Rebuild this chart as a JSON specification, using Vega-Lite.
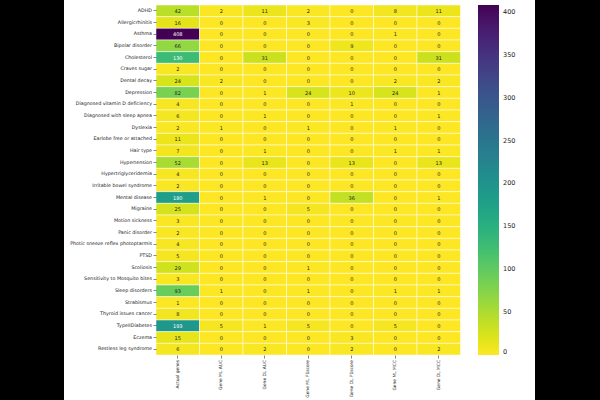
{
  "$schema": "https://vega.github.io/schema/vega-lite/v6.json",
  "padding": 0,
  "background": "white",
  "spacing": 0,
  "bounds": "full",
  "config": {
    "view": {"stroke": null},
    "font": "DejaVu Sans",
    "axis": {"labelFont": "DejaVu Sans", "grid": false, "domain": false},
    "legend": {"labelFont": "DejaVu Sans"}
  },
  "datasets": {
    "genes": [
      {"disease": "ADHD", "Actual genes": 42, "Gene ML AUC": 2, "Gene DL AUC": 11, "Gene ML F1score": 2, "Gene DL F1score": 0, "Gene ML MCC": 8, "Gene DL MCC": 11},
      {"disease": "Allergicrhinitis", "Actual genes": 16, "Gene ML AUC": 0, "Gene DL AUC": 0, "Gene ML F1score": 3, "Gene DL F1score": 0, "Gene ML MCC": 0, "Gene DL MCC": 0},
      {"disease": "Asthma", "Actual genes": 408, "Gene ML AUC": 0, "Gene DL AUC": 0, "Gene ML F1score": 0, "Gene DL F1score": 0, "Gene ML MCC": 1, "Gene DL MCC": 0},
      {"disease": "Bipolar disorder", "Actual genes": 66, "Gene ML AUC": 0, "Gene DL AUC": 0, "Gene ML F1score": 0, "Gene DL F1score": 9, "Gene ML MCC": 0, "Gene DL MCC": 0},
      {"disease": "Cholesterol", "Actual genes": 130, "Gene ML AUC": 0, "Gene DL AUC": 31, "Gene ML F1score": 0, "Gene DL F1score": 0, "Gene ML MCC": 0, "Gene DL MCC": 31},
      {"disease": "Craves sugar", "Actual genes": 2, "Gene ML AUC": 0, "Gene DL AUC": 0, "Gene ML F1score": 0, "Gene DL F1score": 0, "Gene ML MCC": 0, "Gene DL MCC": 0},
      {"disease": "Dental decay", "Actual genes": 24, "Gene ML AUC": 2, "Gene DL AUC": 0, "Gene ML F1score": 0, "Gene DL F1score": 0, "Gene ML MCC": 2, "Gene DL MCC": 2},
      {"disease": "Depression", "Actual genes": 82, "Gene ML AUC": 0, "Gene DL AUC": 1, "Gene ML F1score": 24, "Gene DL F1score": 10, "Gene ML MCC": 24, "Gene DL MCC": 1},
      {"disease": "Diagnosed vitamin D deficiency", "Actual genes": 4, "Gene ML AUC": 0, "Gene DL AUC": 0, "Gene ML F1score": 0, "Gene DL F1score": 1, "Gene ML MCC": 0, "Gene DL MCC": 0},
      {"disease": "Diagnosed with sleep apnea", "Actual genes": 6, "Gene ML AUC": 0, "Gene DL AUC": 1, "Gene ML F1score": 0, "Gene DL F1score": 0, "Gene ML MCC": 0, "Gene DL MCC": 1},
      {"disease": "Dyslexia", "Actual genes": 2, "Gene ML AUC": 1, "Gene DL AUC": 0, "Gene ML F1score": 1, "Gene DL F1score": 0, "Gene ML MCC": 1, "Gene DL MCC": 0},
      {"disease": "Earlobe free or attached", "Actual genes": 11, "Gene ML AUC": 0, "Gene DL AUC": 0, "Gene ML F1score": 0, "Gene DL F1score": 0, "Gene ML MCC": 0, "Gene DL MCC": 0},
      {"disease": "Hair type", "Actual genes": 7, "Gene ML AUC": 0, "Gene DL AUC": 1, "Gene ML F1score": 0, "Gene DL F1score": 0, "Gene ML MCC": 1, "Gene DL MCC": 1},
      {"disease": "Hypertension", "Actual genes": 52, "Gene ML AUC": 0, "Gene DL AUC": 13, "Gene ML F1score": 0, "Gene DL F1score": 13, "Gene ML MCC": 0, "Gene DL MCC": 13},
      {"disease": "Hypertriglyceridemia", "Actual genes": 4, "Gene ML AUC": 0, "Gene DL AUC": 0, "Gene ML F1score": 0, "Gene DL F1score": 0, "Gene ML MCC": 0, "Gene DL MCC": 0},
      {"disease": "Irritable bowel syndrome", "Actual genes": 2, "Gene ML AUC": 0, "Gene DL AUC": 0, "Gene ML F1score": 0, "Gene DL F1score": 0, "Gene ML MCC": 0, "Gene DL MCC": 0},
      {"disease": "Mental disease", "Actual genes": 180, "Gene ML AUC": 0, "Gene DL AUC": 1, "Gene ML F1score": 0, "Gene DL F1score": 36, "Gene ML MCC": 0, "Gene DL MCC": 1},
      {"disease": "Migraine", "Actual genes": 25, "Gene ML AUC": 0, "Gene DL AUC": 0, "Gene ML F1score": 5, "Gene DL F1score": 0, "Gene ML MCC": 0, "Gene DL MCC": 0},
      {"disease": "Motion sickness", "Actual genes": 3, "Gene ML AUC": 0, "Gene DL AUC": 0, "Gene ML F1score": 0, "Gene DL F1score": 0, "Gene ML MCC": 0, "Gene DL MCC": 0},
      {"disease": "Panic disorder", "Actual genes": 2, "Gene ML AUC": 0, "Gene DL AUC": 0, "Gene ML F1score": 0, "Gene DL F1score": 0, "Gene ML MCC": 0, "Gene DL MCC": 0},
      {"disease": "Photic sneeze reflex photoptarmis", "Actual genes": 4, "Gene ML AUC": 0, "Gene DL AUC": 0, "Gene ML F1score": 0, "Gene DL F1score": 0, "Gene ML MCC": 0, "Gene DL MCC": 0},
      {"disease": "PTSD", "Actual genes": 5, "Gene ML AUC": 0, "Gene DL AUC": 0, "Gene ML F1score": 0, "Gene DL F1score": 0, "Gene ML MCC": 0, "Gene DL MCC": 0},
      {"disease": "Scoliosis", "Actual genes": 29, "Gene ML AUC": 0, "Gene DL AUC": 0, "Gene ML F1score": 1, "Gene DL F1score": 0, "Gene ML MCC": 0, "Gene DL MCC": 0},
      {"disease": "Sensitivity to Mosquito bites", "Actual genes": 3, "Gene ML AUC": 0, "Gene DL AUC": 0, "Gene ML F1score": 0, "Gene DL F1score": 0, "Gene ML MCC": 0, "Gene DL MCC": 0},
      {"disease": "Sleep disorders", "Actual genes": 93, "Gene ML AUC": 1, "Gene DL AUC": 0, "Gene ML F1score": 1, "Gene DL F1score": 0, "Gene ML MCC": 1, "Gene DL MCC": 1},
      {"disease": "Strabismus", "Actual genes": 1, "Gene ML AUC": 0, "Gene DL AUC": 0, "Gene ML F1score": 0, "Gene DL F1score": 0, "Gene ML MCC": 0, "Gene DL MCC": 0},
      {"disease": "Thyroid issues cancer", "Actual genes": 8, "Gene ML AUC": 0, "Gene DL AUC": 0, "Gene ML F1score": 0, "Gene DL F1score": 0, "Gene ML MCC": 0, "Gene DL MCC": 0},
      {"disease": "TypeIIDiabetes", "Actual genes": 193, "Gene ML AUC": 5, "Gene DL AUC": 1, "Gene ML F1score": 5, "Gene DL F1score": 0, "Gene ML MCC": 5, "Gene DL MCC": 0},
      {"disease": "Eczema", "Actual genes": 15, "Gene ML AUC": 0, "Gene DL AUC": 0, "Gene ML F1score": 0, "Gene DL F1score": 3, "Gene ML MCC": 0, "Gene DL MCC": 0},
      {"disease": "Restless leg syndrome", "Actual genes": 6, "Gene ML AUC": 0, "Gene DL AUC": 2, "Gene ML F1score": 0, "Gene DL F1score": 2, "Gene ML MCC": 0, "Gene DL MCC": 2}
    ],
    "blank": [{"k": 1}]
  },
  "resolve": {"scale": {"color": "independent"}, "legend": {"color": "independent"}},
  "hconcat": [
    {
      "width": 64,
      "height": 400,
      "view": {"fill": "black", "stroke": null},
      "data": {"name": "blank"},
      "mark": {"type": "point", "opacity": 0},
      "encoding": {}
    },
    {
      "width": 379,
      "height": 355,
      "data": {"name": "genes"},
      "transform": [
        {"fold": ["Actual genes", "Gene ML AUC", "Gene DL AUC", "Gene ML F1score", "Gene DL F1score", "Gene ML MCC", "Gene DL MCC"], "as": ["metric", "value"]}
      ],
      "encoding": {
        "x": {
          "field": "metric", "type": "nominal",
          "sort": ["Actual genes", "Gene ML AUC", "Gene DL AUC", "Gene ML F1score", "Gene DL F1score", "Gene ML MCC", "Gene DL MCC"],
          "scale": {"range": [0, 304.5], "paddingInner": 0, "paddingOuter": 0},
          "axis": {"title": null, "labelAngle": -90, "labelFontSize": 4.4, "labelColor": "#222", "tickSize": 3, "tickColor": "#333", "tickWidth": 0.6, "labelPadding": 1.5}
        },
        "y": {
          "field": "disease", "type": "nominal", "sort": null,
          "scale": {"range": [5, 355], "paddingInner": 0, "paddingOuter": 0},
          "axis": {"title": null, "labelFontSize": 4.8, "labelColor": "#222", "tickSize": 3, "tickColor": "#333", "tickWidth": 0.6, "labelPadding": 1.5, "minExtent": 92, "labelLimit": 300}
        }
      },
      "layer": [
        {
          "mark": {"type": "rect", "stroke": "white", "strokeWidth": 0.5},
          "encoding": {
            "color": {
              "field": "value", "type": "quantitative",
              "scale": {"scheme": "viridis", "reverse": true, "domain": [0, 408], "nice": false},
              "legend": {
                "title": null, "orient": "none", "legendX": 322, "legendY": 5,
                "direction": "vertical",
                "gradientLength": 350, "gradientThickness": 21,
                "values": [0, 50, 100, 150, 200, 250, 300, 350, 400],
                "labelFontSize": 6.5, "labelColor": "#222222", "labelOffset": 4,
                "labelBaseline": "middle", "labelOverlap": false, "padding": 0
              }
            }
          }
        },
        {
          "mark": {"type": "text", "fontSize": 5, "font": "DejaVu Sans"},
          "encoding": {
            "text": {"field": "value", "type": "quantitative"},
            "color": {"condition": {"test": "datum.value > 120", "value": "white"}, "value": "#222"}
          }
        }
      ]
    },
    {
      "width": 65,
      "height": 400,
      "view": {"fill": "black", "stroke": null},
      "data": {"name": "blank"},
      "mark": {"type": "point", "opacity": 0},
      "encoding": {}
    }
  ]
}
